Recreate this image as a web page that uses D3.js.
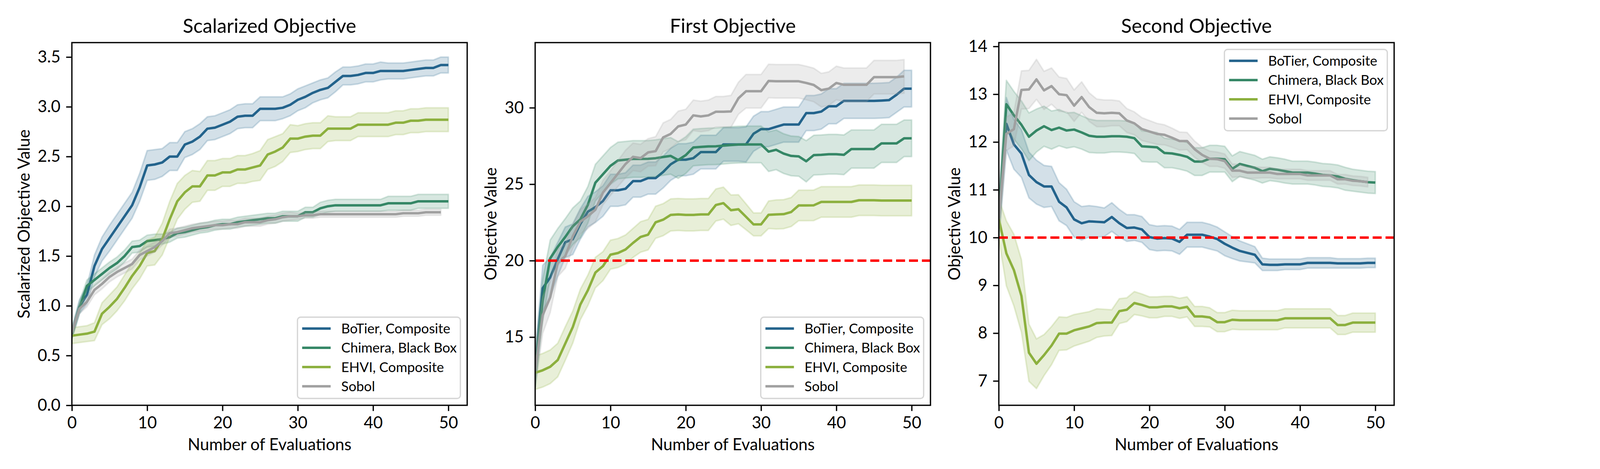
<!DOCTYPE html>
<html><head><meta charset="utf-8">
<script src="https://cdn.jsdelivr.net/npm/d3@7"></script>
<style>body{margin:0;background:#fff} text{font-family:Lato,'Noto Sans',sans-serif;fill:#000}</style>
</head><body><svg id="c" width="4800" height="1200"></svg>
<script>
// ---------- data ----------
const methods = ["BoTier, Composite","Chimera, Black Box","EHVI, Composite","Sobol"];
const panelTitles = ["Scalarized Objective","First Objective","Second Objective"];
const yLabels = ["Scalarized Objective Value","Objective Value","Objective Value"];
const xLabel = "Number of Evaluations";
const xTicks = [0,10,20,30,40,50];
const yTicksScal = [0,0.5,1,1.5,2,2.5,3,3.5];
const yTicksFirst = [15,20,25,30];
const yTicksSecond = [7,8,9,10,11,12,13,14];
const thresholds = [null,20,10];

// Scalarized objective
const botierS = [0.72,0.99,1.11,1.40,1.57,1.68,1.79,1.90,2.01,2.19, 2.41,2.42,2.44,2.50,2.50,2.62,2.65,2.70,2.78,2.79, 2.82,2.85,2.90,2.91,2.91,2.98,2.98,2.98,2.99,3.02, 3.07,3.10,3.14,3.17,3.19,3.25,3.31,3.31,3.32,3.34, 3.34,3.36,3.36,3.36,3.36,3.37,3.38,3.39,3.39,3.42,3.42];
const botierSErr = [0.05,0.07,0.09,0.11,0.12,0.13,0.13,0.13,0.13,0.14, 0.15,0.15,0.14,0.14,0.14,0.13,0.13,0.13,0.12,0.12, 0.12,0.12,0.12,0.12,0.12,0.12,0.12,0.12,0.11,0.11, 0.11,0.11,0.10,0.10,0.10,0.10,0.09,0.09,0.09,0.09, 0.09,0.09,0.08,0.08,0.08,0.08,0.08,0.08,0.08,0.08,0.08];
const chimeraS = [0.72,0.98,1.20,1.26,1.32,1.38,1.43,1.50,1.59,1.60, 1.65,1.66,1.67,1.69,1.73,1.74,1.76,1.78,1.79,1.81, 1.82,1.82,1.84,1.85,1.86,1.87,1.88,1.88,1.90,1.90, 1.90,1.94,1.94,1.98,2.00,2.01,2.01,2.01,2.01,2.01, 2.01,2.01,2.03,2.03,2.03,2.03,2.05,2.05,2.05,2.05,2.05];
const chimeraSErr = [0.05,0.06,0.06,0.06,0.06,0.06,0.06,0.06,0.06,0.06, 0.06,0.06,0.05,0.05,0.05,0.05,0.05,0.05,0.05,0.05, 0.05,0.05,0.05,0.05,0.05,0.05,0.05,0.05,0.05,0.05, 0.05,0.05,0.05,0.06,0.06,0.06,0.06,0.06,0.06,0.06, 0.06,0.06,0.07,0.07,0.07,0.07,0.07,0.07,0.07,0.07,0.07];
const ehviS = [0.70,0.71,0.72,0.74,0.92,0.99,1.07,1.18,1.30,1.40, 1.53,1.55,1.67,1.87,2.05,2.14,2.20,2.20,2.31,2.31, 2.34,2.34,2.37,2.37,2.39,2.41,2.52,2.55,2.59,2.68, 2.68,2.70,2.71,2.71,2.78,2.78,2.78,2.78,2.82,2.82, 2.82,2.82,2.82,2.84,2.84,2.86,2.86,2.87,2.87,2.87,2.87];
const ehviSErr = [0.08,0.08,0.08,0.09,0.11,0.12,0.12,0.13,0.13,0.13, 0.13,0.14,0.16,0.18,0.18,0.17,0.16,0.15,0.15,0.15, 0.14,0.14,0.14,0.14,0.14,0.15,0.15,0.15,0.14,0.14, 0.13,0.13,0.13,0.13,0.13,0.12,0.12,0.12,0.12,0.12, 0.12,0.12,0.12,0.12,0.12,0.12,0.12,0.12,0.12,0.12,0.12];
const sobolS = [0.73,0.97,1.04,1.16,1.22,1.29,1.34,1.38,1.42,1.51, 1.55,1.59,1.65,1.73,1.74,1.76,1.78,1.79,1.80,1.81, 1.81,1.82,1.82,1.84,1.84,1.84,1.86,1.87,1.89,1.90, 1.90,1.91,1.91,1.92,1.92,1.92,1.92,1.92,1.92,1.92, 1.92,1.92,1.92,1.92,1.93,1.93,1.93,1.94,1.94,1.94];
const sobolSErr = [0.05,0.05,0.05,0.05,0.05,0.05,0.05,0.05,0.05,0.05, 0.05,0.05,0.04,0.04,0.04,0.04,0.04,0.04,0.04,0.04, 0.04,0.04,0.04,0.04,0.04,0.04,0.04,0.04,0.04,0.04, 0.03,0.03,0.03,0.03,0.03,0.03,0.03,0.03,0.03,0.03, 0.03,0.03,0.03,0.03,0.03,0.03,0.03,0.03,0.03,0.03];

// First objective
const botierF = [12.8,18.2,18.9,20.1,21.2,21.4,22.4,23.2,23.5,23.9, 24.6,24.6,24.7,25.2,25.2,25.4,25.4,25.8,26.3,26.6, 26.6,26.7,27.1,27.1,27.1,27.6,27.6,27.6,27.6,28.3, 28.6,28.6,28.75,28.9,28.9,28.9,29.65,29.65,29.75,30.1, 30.1,30.45,30.45,30.45,30.45,30.45,30.47,30.5,30.85,31.25,31.25];
const botierFErr = [1.1,1.5,1.3,1.1,1.0,1.0,1.0,1.0,1.0,1.0, 1.05,1.05,1.05,1.05,1.05,1.05,1.05,1.05,1.05,1.05, 1.05,1.05,1.1,1.1,1.1,1.1,1.1,1.1,1.15,1.15, 1.15,1.15,1.15,1.15,1.15,1.15,1.15,1.15,1.15,1.15, 1.15,1.15,1.15,1.15,1.15,1.15,1.15,1.15,1.15,1.2,1.2];
const chimeraF = [12.8,17.4,20.15,20.9,21.55,22.25,22.7,23.65,25.1,25.65, 26.2,26.55,26.6,26.65,26.65,26.66,26.7,26.78,26.85,26.58, 26.9,27.4,27.44,27.47,27.48,27.52,27.56,27.59,27.6,27.6, 27.6,27.13,27.25,27.0,26.85,26.82,26.5,26.9,26.92,26.96, 26.96,26.92,27.3,27.3,27.3,27.3,27.67,27.67,27.67,28.0,28.0];
const chimeraFErr = [1.1,1.4,1.2,1.2,1.2,1.2,1.2,1.2,1.2,1.2, 1.2,1.2,1.2,1.2,1.2,1.2,1.2,1.2,1.2,1.2, 1.2,1.2,1.2,1.2,1.2,1.2,1.2,1.2,1.2,1.2, 1.2,1.3,1.3,1.3,1.3,1.3,1.35,1.3,1.3,1.3, 1.3,1.3,1.25,1.25,1.25,1.25,1.25,1.25,1.25,1.2,1.2];
const ehviF = [12.67,12.83,13.06,13.5,14.58,15.66,17.13,18.06,19.22,19.64, 20.39,20.5,20.73,21.16,21.55,21.7,22.51,22.68,22.99,23.02, 22.99,22.99,23.02,23.02,23.64,23.76,23.3,23.36,22.87,22.37, 22.37,23.0,23.02,23.04,23.18,23.61,23.61,23.62,23.84,23.84, 23.84,23.84,23.84,23.95,23.95,23.95,23.93,23.93,23.93,23.93,23.93];
const ehviFErr = [1.1,1.1,1.1,1.1,1.1,1.05,1.0,1.0,1.0,0.95, 0.95,0.95,0.95,0.95,1.0,1.0,1.05,1.05,1.05,1.05, 1.05,1.05,1.05,1.05,1.05,1.05,1.0,0.95,0.85,0.75, 0.75,0.9,0.95,0.95,0.95,1.0,1.0,1.0,1.0,1.0, 1.0,1.0,1.0,1.0,1.0,1.0,1.0,1.0,1.0,1.0,1.0];
const sobolF = [12.8,16.44,17.6,19.85,20.3,21.6,22.55,22.9,23.33,24.45, 25.07,25.7,26.32,26.79,26.71,27.08,27.16,28.06,28.29,28.78, 28.9,29.5,29.43,29.5,29.74,29.74,29.76,30.62,31.08,31.08, 31.08,31.75,31.73,31.73,31.73,31.73,31.62,31.49,31.15,31.25, 31.62,31.5,31.5,31.5,31.5,32.0,32.0,32.0,32.0,32.05];
const sobolFErr = [1.1,1.2,1.0,0.9,0.8,0.8,0.8,0.8,0.8,0.8, 0.8,0.85,0.9,0.9,0.9,0.9,0.95,0.95,0.95,1.0, 1.0,1.0,1.0,1.0,1.0,1.0,1.05,1.05,1.1,1.1, 1.1,1.1,1.1,1.1,1.1,1.1,1.1,1.1,1.1,1.1, 1.1,1.1,1.1,1.1,1.1,1.1,1.1,1.1,1.1,1.1];

// Second objective
const botierT = [10.4,12.38,11.95,11.76,11.31,11.16,11.07,11.07,10.75,10.63, 10.38,10.3,10.34,10.33,10.32,10.43,10.3,10.2,10.21,10.17, 10.01,9.98,9.99,9.98,9.91,10.06,10.06,10.06,10.02,9.97, 9.87,9.79,9.72,9.68,9.64,9.44,9.43,9.43,9.44,9.44, 9.44,9.47,9.47,9.47,9.47,9.46,9.46,9.46,9.46,9.47,9.47];
const botierTErr = [0.4,0.55,0.52,0.5,0.48,0.46,0.44,0.42,0.4,0.38, 0.37,0.35,0.33,0.32,0.3,0.3,0.29,0.28,0.27,0.27, 0.26,0.26,0.26,0.26,0.26,0.26,0.26,0.26,0.26,0.25, 0.25,0.23,0.21,0.19,0.17,0.13,0.12,0.12,0.11,0.11, 0.11,0.11,0.11,0.11,0.11,0.1,0.1,0.1,0.1,0.1,0.1];
const chimeraT = [10.4,12.79,12.56,12.36,12.11,12.24,12.33,12.25,12.3,12.24, 12.26,12.2,12.13,12.11,12.11,12.12,12.12,12.11,12.08,11.91, 11.9,11.89,11.77,11.76,11.73,11.69,11.59,11.59,11.65,11.65, 11.64,11.44,11.54,11.5,11.46,11.39,11.44,11.42,11.39,11.36, 11.36,11.36,11.34,11.31,11.3,11.28,11.23,11.2,11.18,11.16,11.15];
const chimeraTErr = [0.4,0.5,0.5,0.5,0.5,0.45,0.42,0.4,0.38,0.37, 0.36,0.35,0.35,0.34,0.34,0.33,0.33,0.33,0.32,0.32, 0.32,0.31,0.31,0.3,0.3,0.3,0.29,0.29,0.28,0.28, 0.27,0.27,0.26,0.26,0.26,0.25,0.25,0.25,0.25,0.24, 0.24,0.24,0.24,0.24,0.24,0.24,0.24,0.23,0.23,0.23,0.23];
const ehviT = [10.39,9.67,9.32,8.78,7.59,7.36,7.54,7.74,7.99,7.99, 8.06,8.1,8.14,8.21,8.22,8.22,8.46,8.49,8.63,8.59, 8.54,8.54,8.56,8.56,8.52,8.55,8.35,8.35,8.33,8.23, 8.23,8.28,8.27,8.27,8.27,8.27,8.27,8.27,8.31,8.31, 8.31,8.31,8.31,8.31,8.31,8.17,8.17,8.22,8.22,8.22,8.22];
const ehviTErr = [0.42,0.68,0.75,0.76,0.6,0.52,0.43,0.4,0.35,0.34, 0.33,0.32,0.31,0.3,0.28,0.27,0.26,0.25,0.24,0.23, 0.22,0.22,0.21,0.21,0.21,0.21,0.21,0.21,0.2,0.2, 0.2,0.2,0.2,0.2,0.2,0.2,0.2,0.2,0.2,0.2, 0.2,0.2,0.2,0.2,0.2,0.2,0.2,0.2,0.2,0.2,0.2];
const sobolT = [10.39,12.17,12.27,13.09,13.1,13.31,13.08,13.17,13.0,12.98, 12.76,12.94,12.73,12.61,12.6,12.61,12.6,12.45,12.39,12.27, 12.22,12.17,12.15,12.09,12.02,12.02,11.85,11.73,11.65,11.64, 11.6,11.4,11.4,11.36,11.36,11.36,11.36,11.33,11.33,11.33, 11.33,11.3,11.3,11.3,11.3,11.22,11.22,11.19,11.18,11.16];
const sobolTErr = [0.4,0.35,0.35,0.4,0.4,0.42,0.4,0.38,0.36,0.35, 0.33,0.32,0.3,0.29,0.28,0.27,0.26,0.25,0.24,0.24, 0.23,0.22,0.21,0.2,0.19,0.18,0.17,0.16,0.16,0.15, 0.15,0.14,0.13,0.12,0.12,0.11,0.11,0.1,0.1,0.1, 0.1,0.1,0.1,0.1,0.1,0.1,0.1,0.1,0.1,0.1];

// ---------- styling / layout ----------
const colors = ["#23638C","#358766","#8CB03E","#A0A0A0"];
const W = 4800, H = 1200;
const panels = [
  {left:184, yDomain:[0,3.645], ticks:yTicksScal, fmt:d3.format(".1f"), ylabOff:108, legendPos:"lower",
   series:[[botierS,botierSErr],[chimeraS,chimeraSErr],[ehviS,ehviSErr],[sobolS,sobolSErr]]},
  {left:1370, yDomain:[10.54,34.26], ticks:yTicksFirst, fmt:d3.format("d"), ylabOff:99, legendPos:"lower",
   series:[[botierF,botierFErr],[chimeraF,chimeraFErr],[ehviF,ehviFErr],[sobolF,sobolFErr]]},
  {left:2557, yDomain:[6.49,14.08], ticks:yTicksSecond, fmt:d3.format("d"), ylabOff:99, legendPos:"upper",
   series:[[botierT,botierTErr],[chimeraT,chimeraTErr],[ehviT,ehviTErr],[sobolT,sobolTErr]]}
];
const axTop = 109, pw = 1012, ph = 928;
const tickFont = 42, labelFont = 42, titleFont = 50, legendFont = 35;

const svg = d3.select("#c");
svg.append("rect").attr("width",W).attr("height",H).attr("fill","#fff");

panels.forEach((p, pi) => {
  const g = svg.append("g").attr("transform",`translate(${p.left},${axTop})`);
  const x = d3.scaleLinear().domain([0,52.5]).range([0,pw]);
  const y = d3.scaleLinear().domain(p.yDomain).range([ph,0]);

  const clipId = "clip"+pi;
  g.append("clipPath").attr("id",clipId).append("rect").attr("width",pw).attr("height",ph);
  const plot = g.append("g").attr("clip-path",`url(#${clipId})`);

  p.series.forEach(([mean, err], si) => {
    const idx = mean.map((d,i)=>i);
    const area = d3.area().x(i=>x(i)).y0(i=>y(mean[i]-err[i])).y1(i=>y(mean[i]+err[i]));
    plot.append("path").attr("d",area(idx)).attr("fill",colors[si]).attr("fill-opacity",0.2)
      .attr("stroke",colors[si]).attr("stroke-opacity",0.2).attr("stroke-width",4).attr("stroke-linejoin","round");
    const line = d3.line().x(i=>x(i)).y(i=>y(mean[i]));
    plot.append("path").attr("d",line(idx)).attr("fill","none").attr("stroke",colors[si])
      .attr("stroke-width",6.25).attr("stroke-linejoin","round").attr("stroke-linecap","butt");
  });

  if (thresholds[pi] !== null) {
    plot.append("line").attr("x1",0).attr("x2",pw).attr("y1",y(thresholds[pi])).attr("y2",y(thresholds[pi]))
      .attr("stroke","#ff0000").attr("stroke-width",6.25).attr("stroke-dasharray","23,10");
  }

  // axes
  const xAxis = d3.axisBottom(x).tickValues(xTicks).tickSize(14.6).tickPadding(14.6).tickFormat(d3.format("d"));
  const yAxis = d3.axisLeft(y).tickValues(p.ticks).tickSize(14.6).tickPadding(14.6).tickFormat(p.fmt);
  const gx = g.append("g").attr("transform",`translate(0,${ph})`).call(xAxis);
  const gy = g.append("g").call(yAxis);
  [gx,gy].forEach(a=>{
    a.select(".domain").remove();
    a.selectAll(".tick line").attr("stroke","#000").attr("stroke-width",3.3);
    a.selectAll(".tick text").attr("font-family","Lato").attr("font-size",tickFont).attr("fill","#000");
  });

  // spines
  g.append("rect").attr("width",pw).attr("height",ph).attr("fill","none").attr("stroke","#000").attr("stroke-width",3.3);

  // title
  g.append("text").attr("x",pw/2).attr("y",84-axTop).attr("text-anchor","middle")
    .attr("font-size",titleFont).text(panelTitles[pi]);
  // x label
  g.append("text").attr("x",pw/2).attr("y",ph+115).attr("text-anchor","middle")
    .attr("font-size",labelFont).text(xLabel);
  // y label
  g.append("text").attr("transform",`translate(${-p.ylabOff},${ph/2}) rotate(-90)`).attr("text-anchor","middle")
    .attr("font-size",labelFont).text(yLabels[pi]);

  // legend
  const lw = 417, lh = 208, pad = 17.5;
  const lx = pw - pad - lw;
  const ly = p.legendPos === "lower" ? ph - pad - lh : pad;
  const lg = g.append("g").attr("transform",`translate(${lx},${ly})`);
  lg.append("rect").attr("width",lw).attr("height",lh).attr("rx",8).attr("ry",8)
    .attr("fill","#fff").attr("fill-opacity",0.8).attr("stroke","#cccccc").attr("stroke-opacity",0.8).attr("stroke-width",3.3);
  methods.forEach((m, k) => {
    const cy = 29 + k*49.3;
    lg.append("line").attr("x1",12).attr("x2",85).attr("y1",cy).attr("y2",cy)
      .attr("stroke",colors[k]).attr("stroke-width",6.25);
    lg.append("text").attr("x",112).attr("y",cy).attr("dy","0.36em").attr("font-size",legendFont).text(m);
  });
});
</script></body></html>
